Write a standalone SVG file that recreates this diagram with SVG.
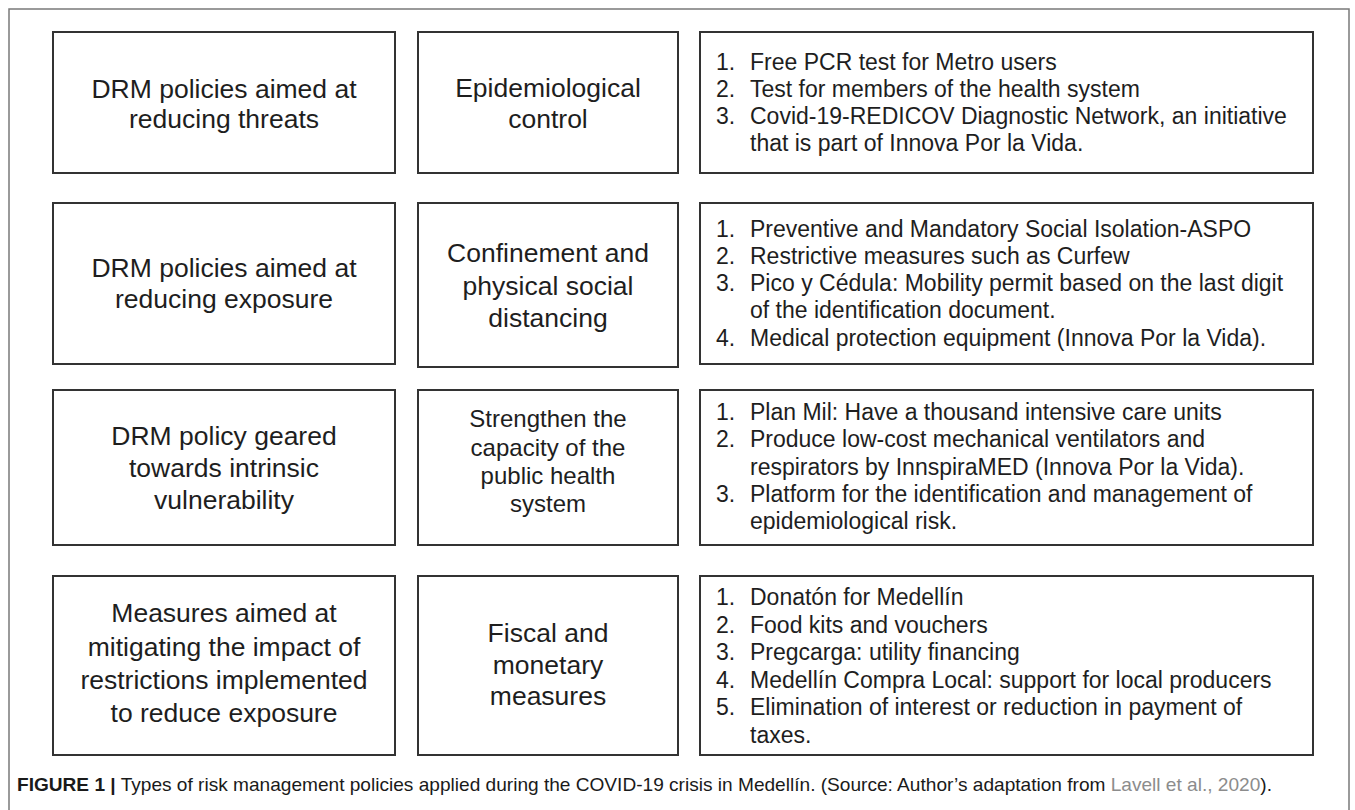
<svg xmlns="http://www.w3.org/2000/svg" width="1355" height="810" viewBox="0 0 1355 810">
  <style>
    .box { fill: #ffffff; stroke: #333333; stroke-width: 2; }
    .frame { fill: none; stroke: #7a7a7a; stroke-width: 1.5; }
    .head { font-family: "Liberation Sans", Arial, sans-serif; font-size: 26.5px; fill: #1e1e1e; text-anchor: middle; }
    .head2 { font-family: "Liberation Sans", Arial, sans-serif; font-size: 24px; fill: #1e1e1e; text-anchor: middle; }
    .list { font-family: "Liberation Sans", Arial, sans-serif; font-size: 23px; fill: #1e1e1e; }
    .cap { font-family: "Liberation Sans", Arial, sans-serif; font-size: 19px; fill: #1a1a1a; }
    .capb { font-weight: bold; }
    .link { fill: #8c8c8c; }
  </style>

  <rect x="0" y="0" width="1355" height="810" fill="#ffffff"/>
  <path class="frame" d="M9,810 V9 H1349 V810"/>

  <!-- Row 1: reducing threats -->
  <g id="threats-policy">
    <rect class="box" x="53" y="32" width="342" height="141"/>
    <text class="head"><tspan x="224" y="98">DRM policies aimed at</tspan><tspan x="224" y="128">reducing threats</tspan></text>
  </g>
  <g id="threats-type">
    <rect class="box" x="418" y="32" width="260" height="141"/>
    <text class="head"><tspan x="548" y="97">Epidemiological</tspan><tspan x="548" y="128">control</tspan></text>
  </g>
  <g id="threats-actions">
    <rect class="box" x="700" y="32" width="613" height="141"/>
    <text class="list">
      <tspan x="716" y="70">1.</tspan><tspan x="750" y="70">Free PCR test for Metro users</tspan>
      <tspan x="716" y="97">2.</tspan><tspan x="750" y="97">Test for members of the health system</tspan>
      <tspan x="716" y="124">3.</tspan><tspan x="750" y="124">Covid-19-REDICOV Diagnostic Network, an initiative</tspan>
      <tspan x="750" y="151">that is part of Innova Por la Vida.</tspan>
    </text>
  </g>

  <!-- Row 2: reducing exposure -->
  <g id="exposure-policy">
    <rect class="box" x="53" y="203" width="342" height="161"/>
    <text class="head"><tspan x="224" y="277">DRM policies aimed at</tspan><tspan x="224" y="308">reducing exposure</tspan></text>
  </g>
  <g id="exposure-type">
    <rect class="box" x="418" y="203" width="260" height="164"/>
    <text class="head"><tspan x="548" y="262">Confinement and</tspan><tspan x="548" y="295">physical social</tspan><tspan x="548" y="327">distancing</tspan></text>
  </g>
  <g id="exposure-actions">
    <rect class="box" x="700" y="203" width="613" height="161"/>
    <text class="list">
      <tspan x="716" y="237">1.</tspan><tspan x="750" y="237">Preventive and Mandatory Social Isolation-ASPO</tspan>
      <tspan x="716" y="264">2.</tspan><tspan x="750" y="264">Restrictive measures such as Curfew</tspan>
      <tspan x="716" y="291">3.</tspan><tspan x="750" y="291">Pico y Cédula: Mobility permit based on the last digit</tspan>
      <tspan x="750" y="318">of the identification document.</tspan>
      <tspan x="716" y="346">4.</tspan><tspan x="750" y="346">Medical protection equipment (Innova Por la Vida).</tspan>
    </text>
  </g>

  <!-- Row 3: intrinsic vulnerability -->
  <g id="vulnerability-policy">
    <rect class="box" x="53" y="390" width="342" height="155"/>
    <text class="head"><tspan x="224" y="445">DRM policy geared</tspan><tspan x="224" y="477">towards intrinsic</tspan><tspan x="224" y="509">vulnerability</tspan></text>
  </g>
  <g id="vulnerability-type">
    <rect class="box" x="418" y="390" width="260" height="155"/>
    <text class="head2"><tspan x="548" y="427">Strengthen the</tspan><tspan x="548" y="456">capacity of the</tspan><tspan x="548" y="484">public health</tspan><tspan x="548" y="512">system</tspan></text>
  </g>
  <g id="vulnerability-actions">
    <rect class="box" x="700" y="390" width="613" height="155"/>
    <text class="list">
      <tspan x="716" y="420">1.</tspan><tspan x="750" y="420">Plan Mil: Have a thousand intensive care units</tspan>
      <tspan x="716" y="447">2.</tspan><tspan x="750" y="447">Produce low-cost mechanical ventilators and</tspan>
      <tspan x="750" y="475">respirators by InnspiraMED (Innova Por la Vida).</tspan>
      <tspan x="716" y="502">3.</tspan><tspan x="750" y="502">Platform for the identification and management of</tspan>
      <tspan x="750" y="529">epidemiological risk.</tspan>
    </text>
  </g>

  <!-- Row 4: mitigating the impact of restrictions -->
  <g id="mitigation-policy">
    <rect class="box" x="53" y="576" width="342" height="179"/>
    <text class="head"><tspan x="224" y="622">Measures aimed at</tspan><tspan x="224" y="656">mitigating the impact of</tspan><tspan x="224" y="689">restrictions implemented</tspan><tspan x="224" y="722">to reduce exposure</tspan></text>
  </g>
  <g id="mitigation-type">
    <rect class="box" x="418" y="576" width="260" height="179"/>
    <text class="head"><tspan x="548" y="642">Fiscal and</tspan><tspan x="548" y="674">monetary</tspan><tspan x="548" y="705">measures</tspan></text>
  </g>
  <g id="mitigation-actions">
    <rect class="box" x="700" y="576" width="613" height="179"/>
    <text class="list">
      <tspan x="716" y="605">1.</tspan><tspan x="750" y="605">Donatón for Medellín</tspan>
      <tspan x="716" y="633">2.</tspan><tspan x="750" y="633">Food kits and vouchers</tspan>
      <tspan x="716" y="660">3.</tspan><tspan x="750" y="660">Pregcarga: utility financing</tspan>
      <tspan x="716" y="688">4.</tspan><tspan x="750" y="688">Medellín Compra Local: support for local producers</tspan>
      <tspan x="716" y="715">5.</tspan><tspan x="750" y="715">Elimination of interest or reduction in payment of</tspan>
      <tspan x="750" y="743">taxes.</tspan>
    </text>
  </g>

  <g id="connectors"></g>

  <!-- Caption -->
  <text class="cap" x="17" y="791" textLength="1255" lengthAdjust="spacingAndGlyphs"><tspan class="capb">FIGURE 1 |</tspan> Types of risk management policies applied during the COVID-19 crisis in Medellín. (Source: Author’s adaptation from <tspan class="link">Lavell et al., 2020</tspan>).</text>
</svg>
